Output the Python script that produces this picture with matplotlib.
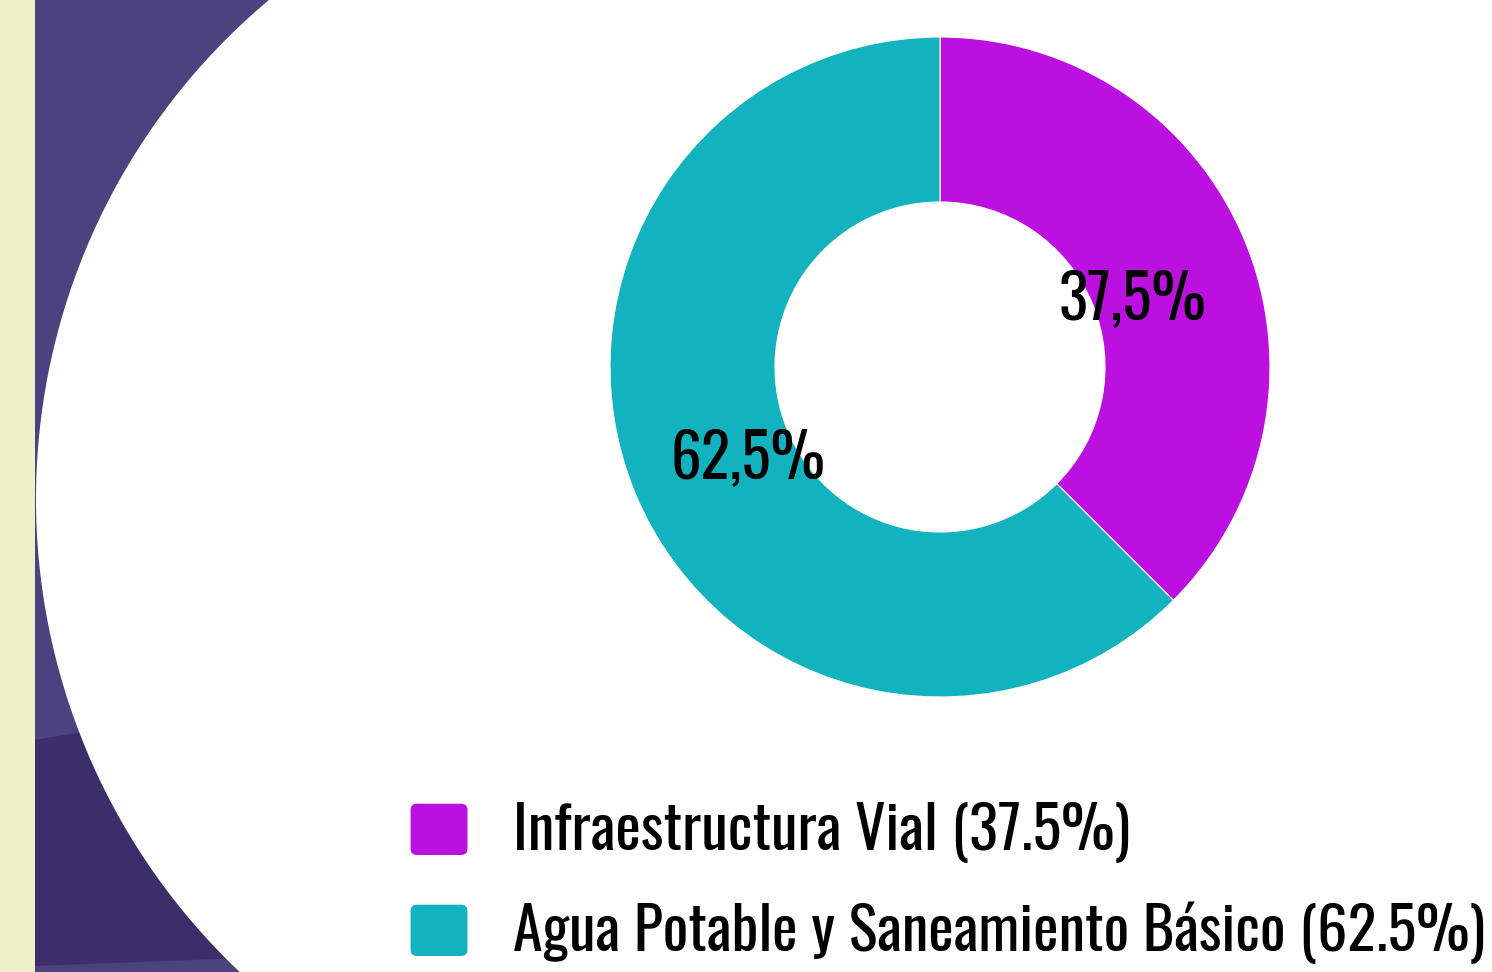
import matplotlib
matplotlib.use('Agg')
import matplotlib.pyplot as plt
from matplotlib.patches import Rectangle, Circle, Polygon, FancyBboxPatch, Wedge
from matplotlib.legend_handler import HandlerPatch

# data
categories = ['Infraestructura Vial', 'Agua Potable y Saneamiento Básico']
values = [37.5, 62.5]
colors = ['#BB10E0', '#12B3BF']
legend_labels = [f'{c} ({v}%)' for c, v in zip(categories, values)]

plt.rcParams['font.family'] = ['Oswald', 'DejaVu Sans']

W, H = 1492, 972
fig = plt.figure(figsize=(W / 100, H / 100), dpi=100)
fig.patch.set_facecolor('white')

# decorative background (pixel coords)
bg = fig.add_axes([0, 0, 1, 1])
bg.set_xlim(0, W)
bg.set_ylim(H, 0)
bg.axis('off')
bg.add_patch(Rectangle((35, 0), 400, H, color='#4C4280', lw=0))
bg.add_patch(Polygon([(35, 740), (200, 712), (400, 690), (400, H), (35, H)],
                     closed=True, color='#3C2E6A', lw=0))
bg.add_patch(Polygon([(35, H), (35, 966), (400, 952), (400, H)],
                     closed=True, color='#4C4280', lw=0))
bg.add_patch(Circle((687, 499), 651, color='white', lw=0))
bg.add_patch(Rectangle((687, 0), W, H, color='white', lw=0))
bg.add_patch(Rectangle((0, 0), 35, H, color='#EEF1C8', lw=0))

# donut
cx, cy, r = 940, 367, 330
ax = fig.add_axes([(cx - r) / W, 1 - (cy + r) / H, 2 * r / W, 2 * r / H])
wedges, texts, autotexts = ax.pie(
    values, colors=colors, startangle=90, counterclock=False,
    wedgeprops=dict(width=0.5, edgecolor='white', linewidth=0.8),
    autopct=lambda p: f'{p:.1f}%'.replace('.', ','), pctdistance=0.63,
    textprops=dict(fontsize=44, color='black'))
for t in autotexts:
    x, y = t.get_position()
    t.set_position((x, y - 0.04))
ax.set_xlim(-1, 1)
ax.set_ylim(-1, 1)
ax.set_aspect('equal')


def rounded_square(legend, orig_handle, xdescent, ydescent, width, height, fontsize):
    return FancyBboxPatch((-xdescent, -ydescent), width, height,
                          boxstyle='round,pad=0,rounding_size=5')


fig.legend(wedges, legend_labels, loc='upper left',
           bbox_to_anchor=(410 / W, 1 - 802 / H), frameon=False,
           fontsize=43.3, handlelength=0.965, handleheight=0.965,
           handletextpad=0.75, labelspacing=0.64, borderpad=0, borderaxespad=0,
           handler_map={Wedge: HandlerPatch(patch_func=rounded_square)})

fig.savefig('out.png', dpi=100)
